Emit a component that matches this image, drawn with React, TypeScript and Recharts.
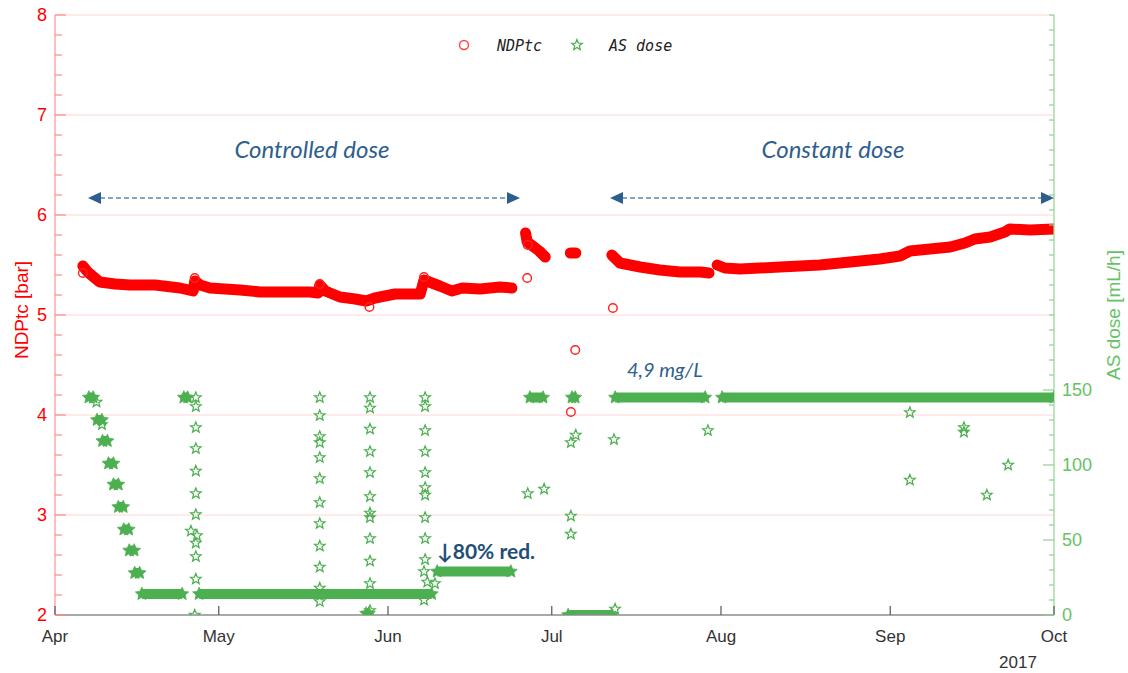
import React from 'react';
import { ComposedChart, Line, Scatter, XAxis, YAxis, ReferenceLine } from 'recharts';

// x = days since 1 Apr 2017
const monthTicks = [0, 30, 61, 91, 122, 153, 183];
const monthLabels = ['Apr', 'May', 'Jun', 'Jul', 'Aug', 'Sep', 'Oct'];
const ndpTicks = [2, 2.2, 2.4, 2.6, 2.8, 3, 3.2, 3.4, 3.6, 3.8, 4, 4.2, 4.4, 4.6, 4.8, 5, 5.2, 5.4, 5.6, 5.8, 6, 6.2, 6.4, 6.6, 6.8, 7, 7.2, 7.4, 7.6, 7.8, 8];
const ndpLabelTicks = [2, 3, 4, 5, 6, 7, 8];
const doseTicks = [0, 10, 20, 30, 40, 50, 60, 70, 80, 90, 100, 110, 120, 130, 140, 150, 160, 170, 180, 190, 200, 210, 220, 230, 240, 250, 260, 270, 280, 290, 300, 310, 320, 330, 340, 350, 360, 370, 380, 390, 400];
const doseLabelTicks = [0, 50, 100, 150];
const gridValues = [3, 4, 5, 6, 7, 8];

// NDPtc dense band segments [day, bar]
const ndpBand1 = [[5.1, 5.49], [6.0, 5.43], [7.3, 5.37], [8.2, 5.33], [11.0, 5.31], [13.7, 5.30], [18.3, 5.30], [22.9, 5.27], [25.3, 5.24], [25.6, 5.34], [26.6, 5.30], [28.4, 5.27], [33.9, 5.25], [37.6, 5.23], [43.0, 5.23], [46.7, 5.23], [48.2, 5.22], [48.5, 5.30], [49.5, 5.24], [52.2, 5.18], [55.0, 5.16], [57.0, 5.14], [58.6, 5.17], [62.3, 5.21], [66.9, 5.21], [67.6, 5.35], [70.5, 5.29], [72.7, 5.24], [74.6, 5.27], [77.9, 5.26], [81.5, 5.28], [83.7, 5.27]];
const ndpBand2 = [[86.2, 5.82], [86.5, 5.73], [87.5, 5.69], [88.7, 5.64], [89.8, 5.58]];
const ndpBand3 = [[94.4, 5.62], [95.4, 5.62]];
const ndpBand4 = [[102.0, 5.60], [103.5, 5.52], [107.2, 5.48], [110.8, 5.45], [114.5, 5.43], [118.2, 5.43], [119.8, 5.42]];
const ndpBand5 = [[121.3, 5.50], [122.7, 5.47], [125.5, 5.46], [129.1, 5.47], [132.8, 5.48], [136.5, 5.49], [140.1, 5.50], [143.8, 5.52], [147.5, 5.54], [151.1, 5.56], [154.8, 5.59], [156.6, 5.64], [160.3, 5.66], [164.0, 5.68], [166.7, 5.72], [168.5, 5.76], [171.3, 5.78], [174.0, 5.83], [174.9, 5.86], [178.6, 5.85], [183.0, 5.86]];
// NDPtc isolated points
const ndpSingles = [[5.1, 5.42], [25.6, 5.37], [48.5, 5.31], [57.6, 5.08], [67.6, 5.38], [86.5, 5.37], [86.6, 5.70], [94.5, 4.03], [95.3, 4.65], [102.2, 5.07]];

// AS dose dense runs [startDay, endDay, mL/h]
const doseRuns = [[6.2, 7.0, 145], [7.7, 8.6, 130], [8.7, 9.6, 116], [9.8, 10.7, 101], [10.7, 11.6, 87], [11.6, 12.5, 72], [12.6, 13.5, 57], [13.6, 14.5, 43], [14.6, 15.5, 28], [15.9, 23.3, 14], [23.6, 24.3, 145], [26.4, 69.0, 14], [57.0, 57.5, 1], [70.0, 83.5, 29], [87.0, 89.4, 145], [94.7, 95.3, 145], [94.0, 102.0, 0], [102.6, 119.1, 145], [122.2, 183.0, 145]];
// AS dose isolated points [day, mL/h]
const doseCol1 = [[25.8, 145], [25.8, 139], [25.8, 125], [25.8, 111], [25.8, 96], [25.8, 81], [25.8, 67], [24.9, 56], [26.0, 53], [25.8, 48], [25.8, 39], [25.8, 24], [25.6, 0], [7.6, 142], [8.6, 127]];
const doseCol2 = [[48.5, 145], [48.5, 133], [48.5, 119], [48.5, 115], [48.5, 105], [48.5, 91], [48.5, 75], [48.5, 61], [48.5, 46], [48.5, 32], [48.5, 18], [48.5, 9]];
const doseCol3 = [[57.7, 145], [57.7, 138], [57.7, 124], [57.7, 109], [57.7, 95], [57.7, 79], [57.7, 68], [57.7, 65], [57.7, 51], [57.7, 36], [57.7, 21], [57.7, 3]];
const doseCol4 = [[67.8, 145], [67.8, 139], [67.8, 123], [67.8, 109], [67.8, 95], [67.8, 85], [67.8, 80], [67.8, 65], [67.8, 51], [67.8, 37], [67.6, 29], [68.2, 22], [67.6, 10], [69.6, 21]];
const doseLate = [[86.6, 81], [89.6, 84], [95.4, 120], [94.5, 115], [94.5, 66], [94.5, 54], [102.4, 117], [102.6, 4], [119.6, 123], [156.6, 135], [156.6, 90], [166.5, 125], [166.5, 122], [170.7, 80], [174.6, 100]];

const RED = '#ff0000';
const GREEN = '#4caf50';
const BLUE = '#2e5e8e';

const toRows = (arr: number[][]) => arr.map(([d, v]) => ({ d, v }));
const bandRows = [ndpBand1, ndpBand2, ndpBand3, ndpBand4, ndpBand5].flatMap((seg) => [...toRows(seg), { d: seg[seg.length - 1][0], v: null }]);
const runRows = doseRuns.flatMap(([s, e, v]) => [{ d: s, v }, { d: e, v }, { d: e, v: null }]);
const doseSingles = toRows([...doseCol1, ...doseCol2, ...doseCol3, ...doseCol4, ...doseLate]);

const starPath = (cx: number, cy: number, R: number, r: number) => {
  let p = '';
  for (let i = 0; i < 10; i++) {
    const a = -Math.PI / 2 + (i * Math.PI) / 5;
    const rad = i % 2 === 0 ? R : r;
    p += (i === 0 ? 'M' : 'L') + (cx + rad * Math.cos(a)).toFixed(2) + ',' + (cy + rad * Math.sin(a)).toFixed(2);
  }
  return p + 'Z';
};

const HollowStar = (p: any) => (p.cx == null || p.cy == null ? <g /> : <path d={starPath(p.cx, p.cy, 5.6, 2.4)} fill="none" stroke={GREEN} strokeWidth={1.2} />);
const HollowCircle = (p: any) => (p.cx == null || p.cy == null ? <g /> : <circle cx={p.cx} cy={p.cy} r={4.3} fill="none" stroke="#ff2020" strokeWidth={1.4} />);
const RunDot = (p: any) => (p.cx == null || p.cy == null || p.value == null || (Array.isArray(p.value) && p.value[1] == null) ? <g key={p.index} /> : <path key={p.index} d={starPath(p.cx, p.cy, 6.8, 3.2)} fill={GREEN} stroke={GREEN} strokeWidth={0.8} />);

const LeftTick = (p: any) => {
  const v = p.payload.value;
  const major = ndpLabelTicks.some((t) => Math.abs(t - v) < 1e-6);
  return (
    <g>
      <line x1={p.x} x2={p.x + (major ? 11 : 7)} y1={p.y} y2={p.y} stroke="#ff8a8a" strokeWidth={1.2} />
      {major && (
        <text x={p.x - 8} y={p.y + 6} textAnchor="end" fill={RED} fontSize={18} fontFamily="Liberation Sans, Arial, sans-serif">{v}</text>
      )}
    </g>
  );
};

const RightTick = (p: any) => {
  const v = p.payload.value;
  const major = doseLabelTicks.includes(v);
  return (
    <g>
      <line x1={p.x} x2={p.x - (major ? 11 : 5)} y1={p.y} y2={p.y} stroke="#8fd28f" strokeWidth={1.2} />
      {major && (
        <text x={p.x + 8} y={p.y + 6} textAnchor="start" fill="#66c266" fontSize={18} fontFamily="Liberation Sans, Arial, sans-serif">{v}</text>
      )}
    </g>
  );
};

const BottomTick = (p: any) => {
  const idx = monthTicks.indexOf(p.payload.value);
  return (
    <g>
      <line x1={p.x} x2={p.x} y1={p.y} y2={p.y - 9} stroke="#555" strokeWidth={1.2} />
      <text x={p.x} y={p.y + 27} textAnchor="middle" fill="#333" fontSize={17} fontFamily="Liberation Sans, Arial, sans-serif">{monthLabels[idx]}</text>
    </g>
  );
};

export default function App() {
  return (
    <div style={{ position: 'absolute', left: 0, top: 0, width: 1128, height: 673, background: '#fff' }}>
      <ComposedChart width={1128} height={673} margin={{ top: 15, right: 0, bottom: 0, left: 0 }}>
        <XAxis xAxisId="x" type="number" dataKey="d" domain={[0, 183]} ticks={monthTicks} allowDataOverflow height={58}
          axisLine={{ stroke: '#8c8c8c', strokeWidth: 1.5 }} tickLine={false} tickSize={0} tickMargin={0} tick={<BottomTick />} interval={0} />
        <YAxis yAxisId="left" type="number" dataKey="v" domain={[2, 8]} ticks={ndpTicks} allowDataOverflow width={55}
          axisLine={{ stroke: '#ff9a9a', strokeWidth: 1.3 }} tickLine={false} tickSize={0} tickMargin={0} tick={<LeftTick />} interval={0} />
        <YAxis yAxisId="right" orientation="right" type="number" dataKey="v" domain={[0, 400]} ticks={doseTicks} allowDataOverflow width={74}
          axisLine={{ stroke: '#9ad89a', strokeWidth: 1.3 }} tickLine={false} tickSize={0} tickMargin={0} tick={<RightTick />} interval={0} />
        {gridValues.map((g) => (
          <ReferenceLine key={g} xAxisId="x" yAxisId="left" y={g} stroke="#ffd6d6" strokeWidth={1} />
        ))}
        <Line xAxisId="x" yAxisId="left" data={bandRows} dataKey="v" stroke={RED} strokeWidth={11} strokeLinecap="round" strokeLinejoin="round"
          dot={false} activeDot={false} connectNulls={false} isAnimationActive={false} type="linear" />
        <Scatter xAxisId="x" yAxisId="left" data={toRows(ndpSingles)} dataKey="v" shape={HollowCircle} isAnimationActive={false} />
        <Line xAxisId="x" yAxisId="right" data={runRows} dataKey="v" stroke={GREEN} strokeWidth={10} strokeLinecap="butt"
          dot={RunDot} activeDot={false} connectNulls={false} isAnimationActive={false} type="linear" />
        <Scatter xAxisId="x" yAxisId="right" data={doseSingles} dataKey="v" shape={HollowStar} isAnimationActive={false} />
      </ComposedChart>
      <svg width={1128} height={673} style={{ position: 'absolute', left: 0, top: 0, pointerEvents: 'none' }}>
        {/* legend */}
        <circle cx={464} cy={45} r={4.5} fill="none" stroke="#ff4040" strokeWidth={1.4} />
        <text x={497} y={51} fontSize={15} fontStyle="italic" fontFamily="DejaVu Sans Mono, monospace" fill="#222">NDPtc</text>
        <path d={starPath(577, 45, 5.6, 2.4)} fill="none" stroke={GREEN} strokeWidth={1.2} />
        <text x={609} y={51} fontSize={15} fontStyle="italic" fontFamily="DejaVu Sans Mono, monospace" fill="#222">AS dose</text>
        {/* axis titles */}
        <text transform="translate(28,310) rotate(-90)" textAnchor="middle" fill={RED} fontSize={19} fontFamily="Liberation Sans, Arial, sans-serif">NDPtc [bar]</text>
        <text transform="translate(1120,315) rotate(-90)" textAnchor="middle" fill="#66c266" fontSize={19} fontFamily="Liberation Sans, Arial, sans-serif">AS dose [mL/h]</text>
        <text x={1018} y={668} textAnchor="middle" fill="#333" fontSize={17} fontFamily="Liberation Sans, Arial, sans-serif">2017</text>
        {/* annotations */}
        <text x={312} y={158} textAnchor="middle" fill={BLUE} fontSize={24} fontStyle="italic" fontFamily="Lato, Open Sans, sans-serif">Controlled dose</text>
        <text x={833} y={158} textAnchor="middle" fill={BLUE} fontSize={24} fontStyle="italic" fontFamily="Lato, Open Sans, sans-serif">Constant dose</text>
        <line x1={100} x2={508} y1={198} y2={198} stroke="#5d88b2" strokeWidth={1.4} strokeDasharray="5 3" />
        <path d="M88,198 L101,192 L101,204 Z" fill={BLUE} />
        <path d="M520,198 L507,192 L507,204 Z" fill={BLUE} />
        <line x1={622} x2={1042} y1={198} y2={198} stroke="#5d88b2" strokeWidth={1.4} strokeDasharray="5 3" />
        <path d="M610,198 L623,192 L623,204 Z" fill={BLUE} />
        <path d="M1054,198 L1041,192 L1041,204 Z" fill={BLUE} />
        <text x={627} y={377} fill={BLUE} fontSize={20} fontStyle="italic" fontFamily="Lato, Open Sans, sans-serif">4,9 mg/L</text>
        <text x={437} y={559} fill="#1f4e79" fontSize={21} fontWeight="bold" fontFamily="Lato, Open Sans, sans-serif">↓80% red.</text>
      </svg>
    </div>
  );
}
